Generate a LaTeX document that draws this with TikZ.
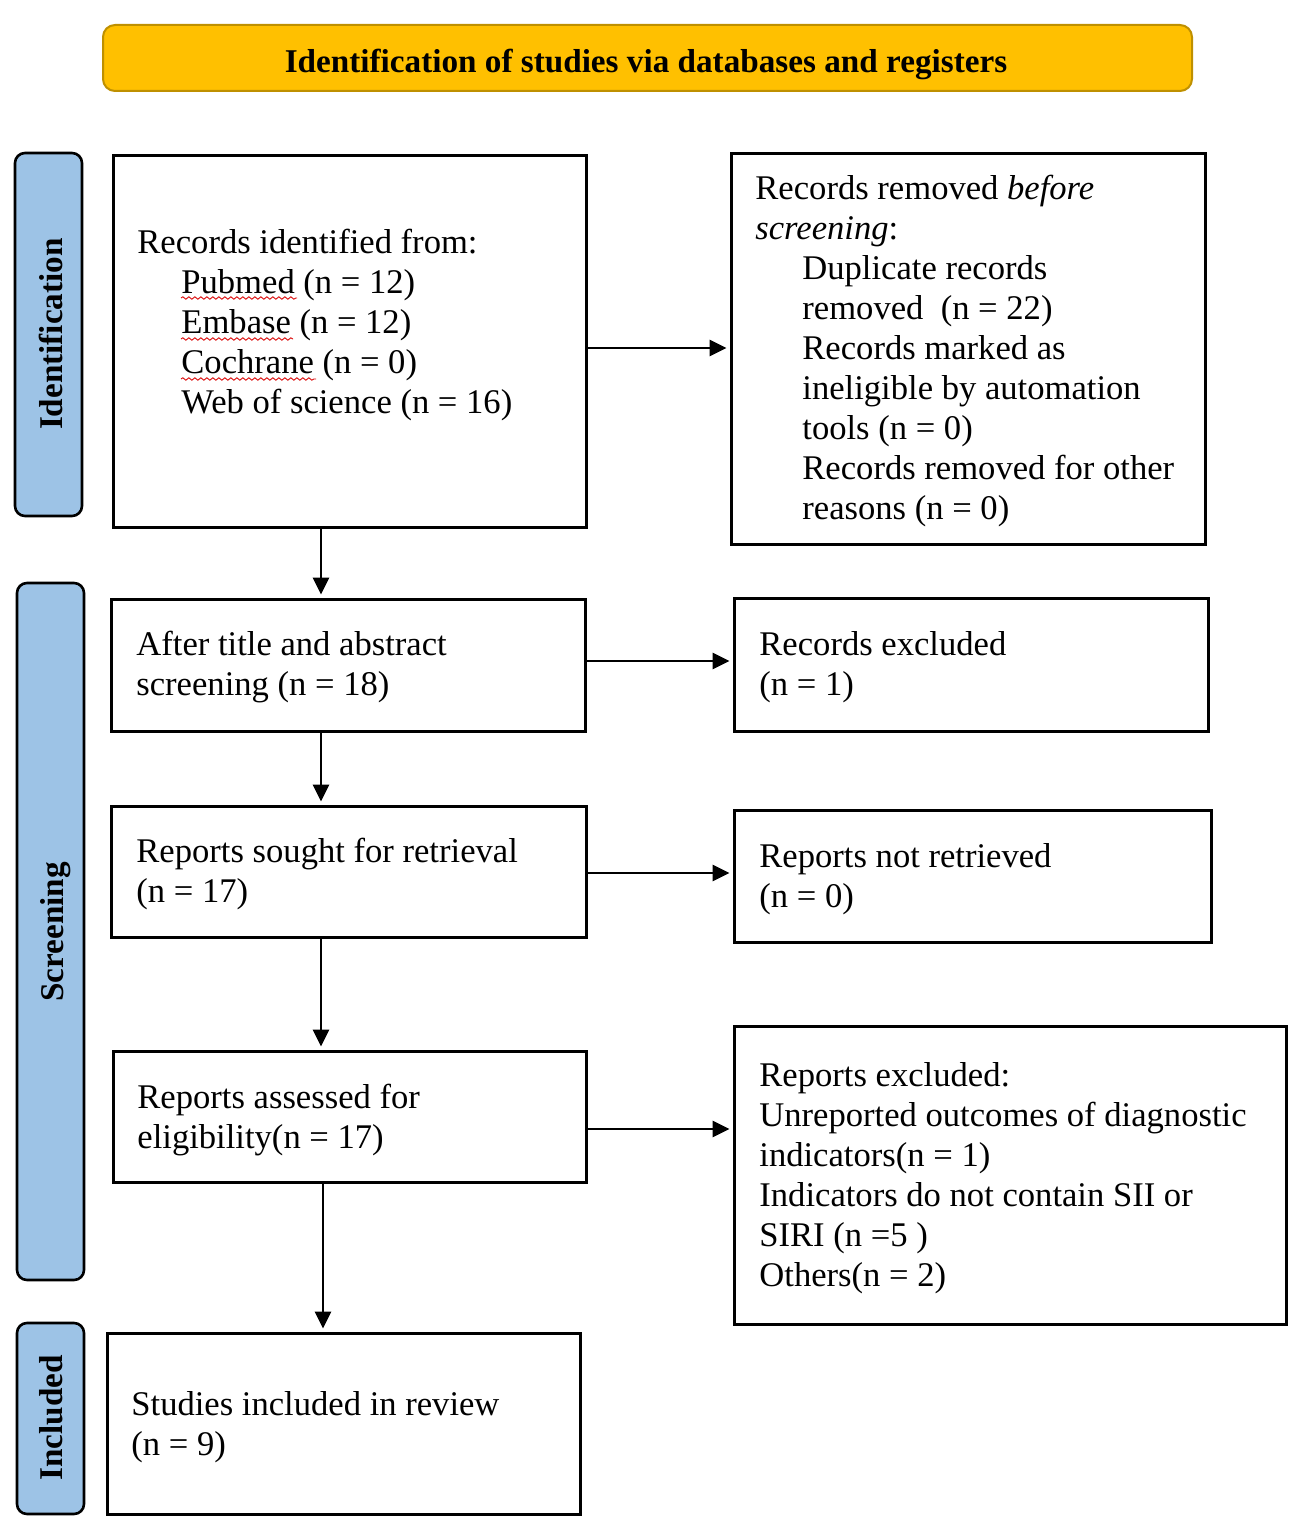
\documentclass[tikz,border=0pt]{standalone}
\usepackage{fontspec}
\setmainfont{Liberation Serif}
\usetikzlibrary{fit,arrows.meta,decorations.pathmorphing}
\definecolor{gold}{RGB}{255,192,0}
\definecolor{goldline}{RGB}{191,144,0}
\definecolor{lblue}{RGB}{157,195,230}
\begin{document}
\begin{tikzpicture}[x=0.5pt,y=-0.5pt,
 box/.style={draw=black, line width=1.5pt, inner sep=0pt, rectangle},
 lab/.style={draw=black, fill=lblue, line width=1.3pt, rounded corners=5pt, inner sep=0pt},
 banner/.style={draw=goldline, fill=gold, line width=1pt, rounded corners=6pt, inner sep=0pt},
 txt/.style={anchor=north west, inner sep=0pt, align=left, font=\fontsize{17.3}{20}\selectfont},
 labtxt/.style={rotate=90, anchor=base, inner sep=0pt, font=\fontsize{16.6}{20}\selectfont\bfseries},
 arr/.style={line width=1.4pt, shorten >=1.5pt, -{Triangle[length=8.5pt,width=8pt]}},
 wavy/.style={red!85!black, line width=0.45pt, decorate, decoration={snake, amplitude=0.6pt, segment length=3pt}}]

\useasboundingbox (0,0) rectangle (1299,1530);

% banner
\node[banner, fit={(103,25) (1192,91)}] (ban) {};
\node[anchor=base, inner sep=0pt, font=\fontsize{16.6}{20}\selectfont\bfseries] (bantxt) at (646,73) {Identification of studies via databases and registers};

% side labels
\node[lab, fit={(15,153) (82,516)}] (s1) {};
\node[lab, fit={(17,583) (84,1280)}] (s2) {};
\node[lab, fit={(17,1323) (84,1514)}] (s3) {};
\node[labtxt] (s1t) at (62,334) {Identification};
\node[labtxt] (s2t) at (63,932) {Screening};
\node[labtxt] (s3t) at (62,1418) {Included};

% boxes
\node[box, fit={(113,156) (586,527)}] (b1) {};
\node[box, fit={(731,154) (1205,544)}] (b2) {};
\node[box, fit={(111,599) (585,731)}] (b3) {};
\node[box, fit={(734,598) (1208,731)}] (b4) {};
\node[box, fit={(111,806) (586,937)}] (b5) {};
\node[box, fit={(734,810) (1211,942)}] (b6) {};
\node[box, fit={(113,1051) (586,1182)}] (b7) {};
\node[box, fit={(734,1026) (1286,1324)}] (b8) {};
\node[box, fit={(107,1333) (580,1514)}] (b9) {};

% texts
\node[txt] (t1) at (137,229) {Records identified from:\\
\hspace*{22pt}Pubmed (n = 12)\\
\hspace*{22pt}Embase (n = 12)\\
\hspace*{22pt}Cochrane (n = 0)\\
\hspace*{22pt}Web of science (n = 16)};
\node[txt] (t2) at (755,175) {Records removed \textit{before}\\
\textit{screening}:\\
\hspace*{23.5pt}Duplicate records\\
\hspace*{23.5pt}removed~~(n = 22)\\
\hspace*{23.5pt}Records marked as\\
\hspace*{23.5pt}ineligible by automation\\
\hspace*{23.5pt}tools (n = 0)\\
\hspace*{23.5pt}Records removed for other\\
\hspace*{23.5pt}reasons (n = 0)};
\node[txt] (t3) at (136,631) {After title and abstract\\screening (n = 18)};
\node[txt] (t4) at (759,631) {Records excluded\\(n = 1)};
\node[txt] (t5) at (136,838) {Reports sought for retrieval\\(n = 17)};
\node[txt] (t6) at (759,843) {Reports not retrieved\\(n = 0)};
\node[txt] (t7) at (137,1084) {Reports assessed for\\eligibility(n = 17)};
\node[txt] (t8) at (759,1062) {Reports excluded:\\
Unreported outcomes of diagnostic\\
indicators(n = 1)\\
Indicators do not contain SII or\\
SIRI (n =5 )\\
Others(n = 2)};
\node[txt] (t9) at (131,1391) {Studies included in review\\(n = 9)};

% spell-check underlines
\draw[wavy] (181,298) -- (297,298);
\draw[wavy] (181,339) -- (293,339);
\draw[wavy] (181,379) -- (316,379);

% connectors
\coordinate (v1) at (321,0);
\coordinate (v2) at (323,0);
\coordinate (h1) at (0,348);
\coordinate (h2) at (0,661);
\coordinate (h3) at (0,873);
\coordinate (h4) at (0,1129);
\draw[arr] (b1.east |- h1) -- (b2.west |- h1);
\draw[arr] (b1.south -| v1) -- (b3.north -| v1);
\draw[arr] (b3.east |- h2) -- (b4.west |- h2);
\draw[arr] (b3.south -| v1) -- (b5.north -| v1);
\draw[arr] (b5.east |- h3) -- (b6.west |- h3);
\draw[arr] (b5.south -| v1) -- (b7.north -| v1);
\draw[arr] (b7.east |- h4) -- (b8.west |- h4);
\draw[arr] (b7.south -| v2) -- (b9.north -| v2);
\end{tikzpicture}
\end{document}
